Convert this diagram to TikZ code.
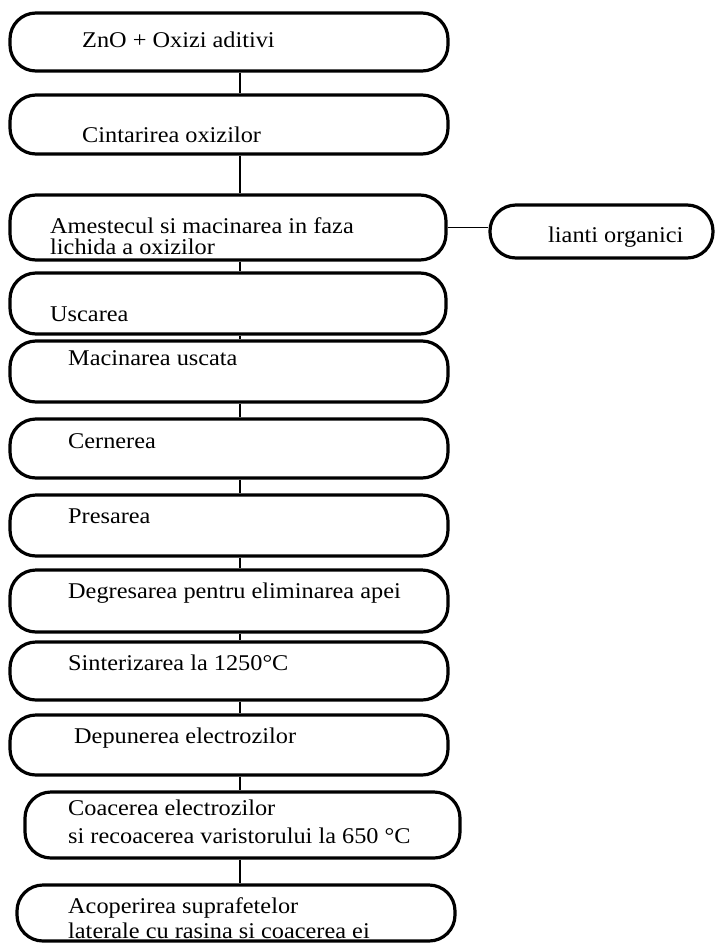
\documentclass[tikz,border=0pt]{standalone}
\usepackage{fontspec}
\setmainfont{Liberation Serif}[FakeStretch=1.08]
\usepackage{tikz}
\usetikzlibrary{calc}

\tikzset{
  stepbox/.style={draw, line width=3.2pt, rounded corners=26pt, inner sep=0pt},
  steptext/.style={anchor=base west, inner sep=0pt, font=\fontsize{22.5}{22}\selectfont},
  link/.style={line width=1.8pt}
}

\begin{document}
\begin{tikzpicture}[x=1pt, y=-1pt]
  \useasboundingbox (0,0) rectangle (715,943);
  \coordinate (spine) at (240,0);

  \node[stepbox, minimum width=438pt, minimum height=58pt] (b1) at (229,42) {};
  \node[stepbox, minimum width=438pt, minimum height=59pt] (b2) at (229,124.5) {};
  \node[stepbox, minimum width=436pt, minimum height=65pt] (b3) at (228,227.5) {};
  \node[stepbox, minimum width=436pt, minimum height=61pt] (b4) at (228,303.5) {};
  \node[stepbox, minimum width=438pt, minimum height=61pt] (b5) at (229,371.5) {};
  \node[stepbox, minimum width=438pt, minimum height=59pt] (b6) at (229,448.5) {};
  \node[stepbox, minimum width=438pt, minimum height=61pt] (b7) at (229,525.5) {};
  \node[stepbox, minimum width=438pt, minimum height=62pt] (b8) at (229,601) {};
  \node[stepbox, minimum width=438pt, minimum height=58pt] (b9) at (229,671) {};
  \node[stepbox, minimum width=438pt, minimum height=60pt] (b10) at (229,745) {};
  \node[stepbox, minimum width=435pt, minimum height=66pt] (b11) at (242.5,825) {};
  \node[stepbox, minimum width=438pt, minimum height=56pt] (b12) at (236,913) {};
  \node[stepbox, minimum width=223pt, minimum height=53pt] (liant) at (601.5,231.5) {};

  \node[steptext] (t1) at (82,47) {ZnO + Oxizi aditivi};
  \node[steptext] (t2) at (82,142) {Cintarirea oxizilor};
  \node[steptext] (t3a) at (50,233) {Amestecul si macinarea in faza};
  \node[steptext] (t3b) at (50,254) {lichida a oxizilor};
  \node[steptext] (t4) at (50,321) {Uscarea};
  \node[steptext] (t5) at (68,365) {Macinarea uscata};
  \node[steptext] (t6) at (68,448) {Cernerea};
  \node[steptext] (t7) at (68,523) {Presarea};
  \node[steptext] (t8) at (68,598) {Degresarea pentru eliminarea apei};
  \node[steptext] (t9) at (68,670) {Sinterizarea la 1250°C};
  \node[steptext] (t10) at (74,743) {Depunerea electrozilor};
  \node[steptext] (t11a) at (68,815) {Coacerea electrozilor};
  \node[steptext] (t11b) at (68,843) {si recoacerea varistorului la 650 °C};
  \node[steptext] (t12a) at (68,913) {Acoperirea suprafetelor};
  \node[steptext] (t12b) at (68,938) {laterale cu rasina si coacerea ei};
  \node[steptext] (tliant) at (548,242) {lianti organici};

  \draw[link] (b1.south -| spine) -- (b2.north -| spine);
  \draw[link] (b2.south -| spine) -- (b3.north -| spine);
  \draw[link] (b3.south -| spine) -- (b4.north -| spine);
  \draw[link] (b4.south -| spine) -- (b5.north -| spine);
  \draw[link] (b5.south -| spine) -- (b6.north -| spine);
  \draw[link] (b6.south -| spine) -- (b7.north -| spine);
  \draw[link] (b7.south -| spine) -- (b8.north -| spine);
  \draw[link] (b8.south -| spine) -- (b9.north -| spine);
  \draw[link] (b9.south -| spine) -- (b10.north -| spine);
  \draw[link] (b10.south -| spine) -- (b11.north -| spine);
  \draw[link] (b11.south -| spine) -- (b12.north -| spine);
  \draw[link] (b3.east) -- (b3.east -| liant.west);

\end{tikzpicture}
\end{document}
